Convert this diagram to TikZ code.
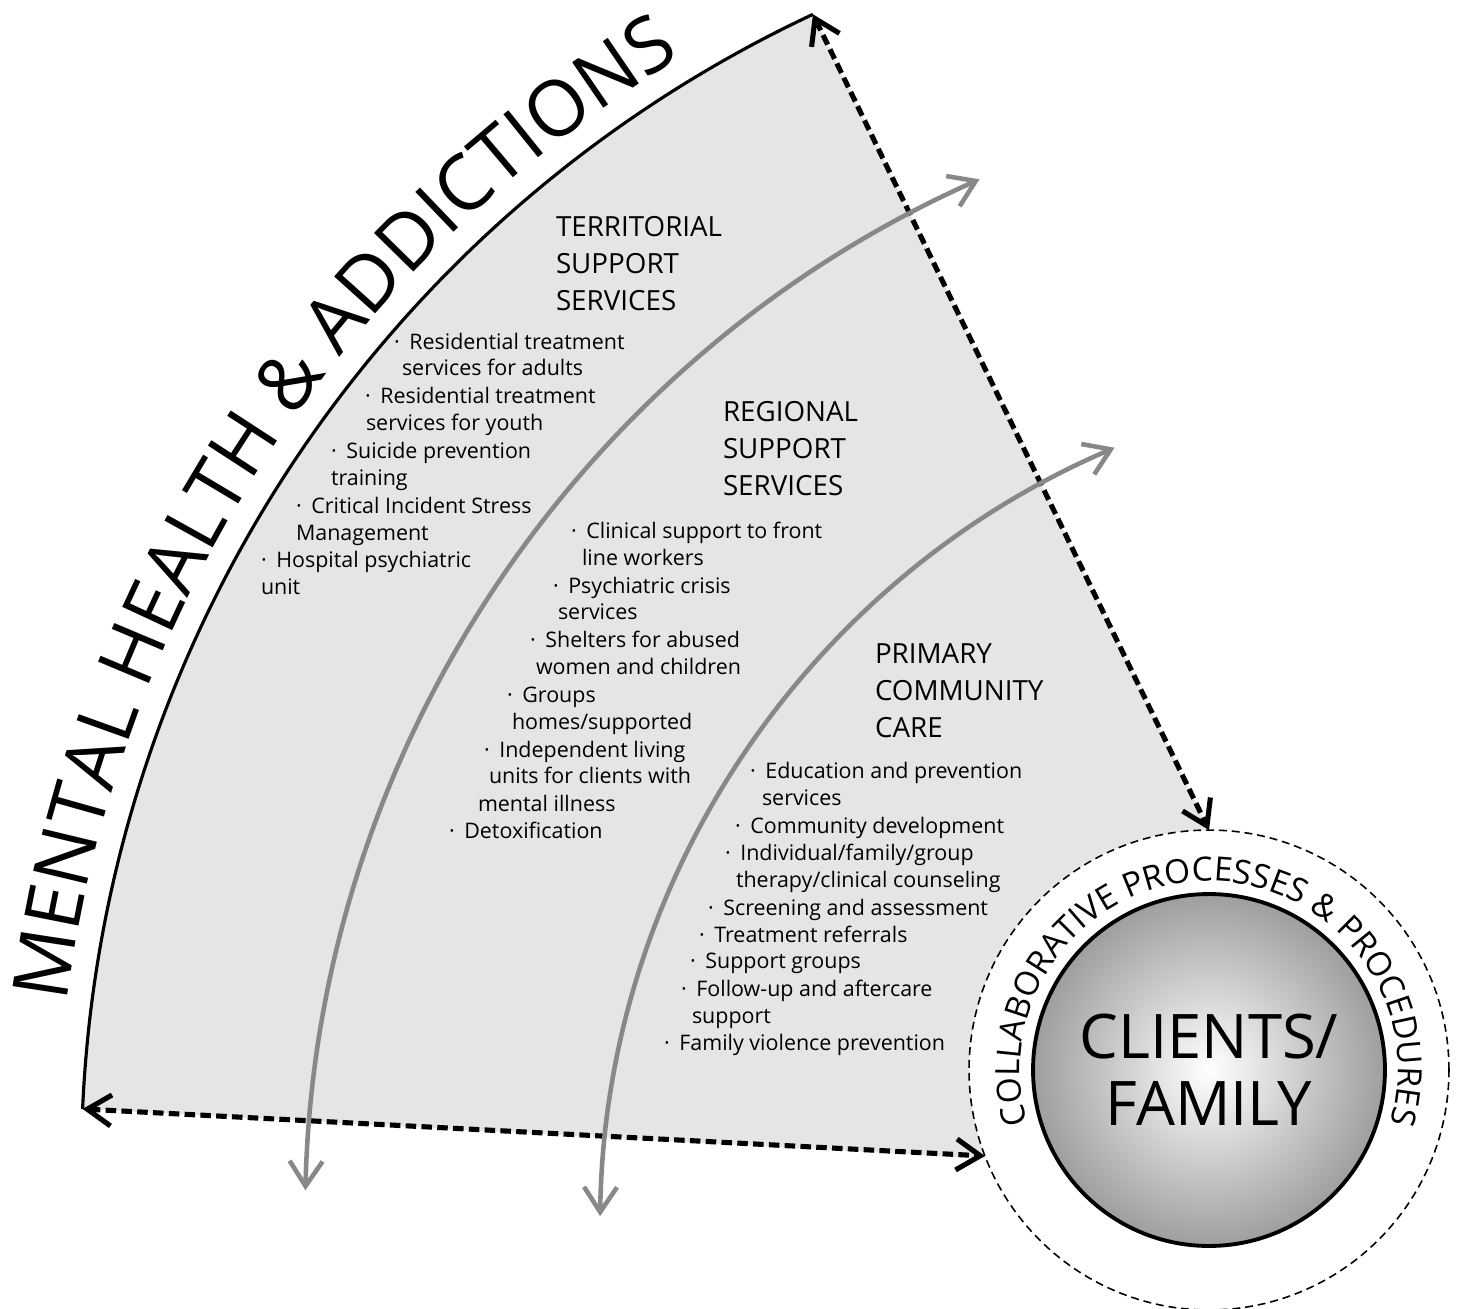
\documentclass[tikz,border=0pt]{standalone}
\usepackage{fontspec}
\setmainfont{Open Sans}
\usetikzlibrary{arrows.meta,decorations.text}
\definecolor{sectorfill}{RGB}{229,229,229}
\definecolor{flowgray}{RGB}{136,136,136}
\newcommand{\svcdot}{\textperiodcentered\hskip0.45em}

\begin{document}
\begin{tikzpicture}[
    x=0.02cm, y=0.02cm,
    every node/.style={inner sep=0pt, outer sep=0pt},
    svc/.style={anchor=base west, font=\fontsize{12.2}{15}\selectfont},
    head/.style={anchor=base west, font=\fontsize{15.8}{19}\selectfont},
    dasharrow/.style={{Straight Barb[length=4.8mm,width=6.2mm]}-{Straight Barb[length=4.8mm,width=6.2mm]}, line width=2.9pt, dash pattern=on 6pt off 3pt},
    flowarrow/.style={{Straight Barb[length=5mm,width=6.6mm]}-{Straight Barb[length=5mm,width=6.6mm]}, line width=2.6pt, color=flowgray},
    ringbox/.style={circle, draw, line width=0.9pt, dash pattern=on 4.5pt off 2.8pt, minimum size=9.6cm},
    clientdisc/.style={circle, draw, line width=2.2pt, minimum size=7.04cm, inner color=white, outer color=black!38, align=center, font=\fontsize{35}{38}\selectfont},
]
\useasboundingbox (0,0) rectangle (1460,-1308);

% Centres
\coordinate (rim) at (1352,-1165);
\coordinate (hub) at (1209,-1070);
\coordinate (arcstart) at ([shift={(rim)}]177.47:1270.7);
\coordinate (arcend) at ([shift={(rim)}]115.1:1270.7);

% Sector
\fill[sectorfill] (arcstart) arc[start angle=177.47, end angle=115.1, radius=1270.7]
    -- ([shift={(hub)}]90:240) arc[start angle=90, end angle=201.6, radius=240] -- cycle;
\draw[line width=1.8pt] (arcstart) arc[start angle=177.47, end angle=115.1, radius=1270.7];

% Clients
\node[ringbox] (ring) at (hub) {};
\node[clientdisc] (clients) at (hub) {CLIENTS/\\FAMILY};

% Dashed borders
\draw[dasharrow] (arcend) -- (ring.north);
\draw[dasharrow] (arcstart) -- (ring.201.6);

% Flow arrows
\coordinate (flowa) at (1442,-1218);
\coordinate (flowb) at (1449,-1228);
\draw[flowarrow] ([shift={(flowa)}]178.6:1137) arc[start angle=178.6, end angle=114, radius=1137];
\draw[flowarrow] ([shift={(flowb)}]179.2:849) arc[start angle=179.2, end angle=113.2, radius=849];

% Curved titles
\path[decorate, decoration={text along path, text align=center,
    text={|\fontsize{44}{44}\selectfont|MENTAL HEALTH {\&} ADDICTIONS}}]
    ([shift={(rim)}]177:1295) arc[start angle=177, end angle=117, radius=1295];
\path[decorate, decoration={text along path, text align=center,
    text={|\fontsize{19}{21}\selectfont|COLLABORATIVE PROCESSES {\&} PROCEDURES}}]
    ([shift={(hub)}]200:189) arc[start angle=200, end angle=-20, radius=189];

% Headings
\foreach \x/\y/\t [count=\i] in {556/236/TERRITORIAL, 556/273/SUPPORT, 556/310/SERVICES}
    \node[head] (terhead\i) at (\x,-\y) {\t};
\foreach \x/\y/\t [count=\i] in {723/421/REGIONAL, 723/458/SUPPORT, 723/495/SERVICES}
    \node[head] (reghead\i) at (\x,-\y) {\t};
\foreach \x/\y/\t [count=\i] in {875/663/PRIMARY, 875/700/COMMUNITY, 875/737/CARE}
    \node[head] (prihead\i) at (\x,-\y) {\t};

% Territorial support services
\foreach \x/\y/\t [count=\i] in {
    394/349/{\svcdot Residential treatment}, 402/375/{services for adults},
    365/403/{\svcdot Residential treatment}, 366/430/{services for youth},
    331/458/{\svcdot Suicide prevention}, 331/485/{training},
    296/513/{\svcdot Critical Incident Stress}, 296/540/{Management},
    261/567/{\svcdot Hospital psychiatric}, 261/594/{unit}}
    \node[svc] (ter\i) at (\x,-\y) {\t};

% Regional support services
\foreach \x/\y/\t [count=\i] in {
    571/538/{\svcdot Clinical support to front}, 582/565/{line workers},
    553/593/{\svcdot Psychiatric crisis}, 558/619/{services},
    530/647/{\svcdot Shelters for abused}, 536/674/{women and children},
    507/702/{\svcdot Groups}, 512/729/{homes/supported},
    484/757/{\svcdot Independent living}, 489/783/{units for clients with},
    478/811/{mental illness}, 449/838/{\svcdot Detoxification}}
    \node[svc] (reg\i) at (\x,-\y) {\t};

% Primary community care
\foreach \x/\y/\t [count=\i] in {
    750/778/{\svcdot Education and prevention}, 762/805/{services},
    735/833/{\svcdot Community development},
    725/860/{\svcdot Individual/family/group}, 736/887/{therapy/clinical counseling},
    708/915/{\svcdot Screening and assessment},
    699/942/{\svcdot Treatment referrals},
    690/968/{\svcdot Support groups},
    681/996/{\svcdot Follow-up and aftercare}, 692/1023/{support},
    664/1050/{\svcdot Family violence prevention}}
    \node[svc] (pri\i) at (\x,-\y) {\t};

\end{tikzpicture}
\end{document}
